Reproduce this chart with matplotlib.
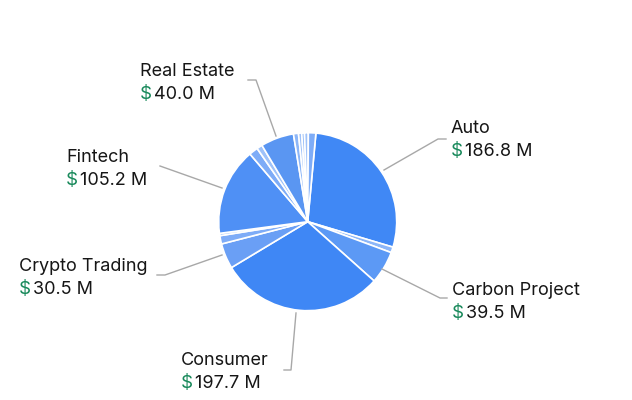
import matplotlib.pyplot as plt

# slices clockwise from Auto; unnamed ones are small unlabeled sectors
names = ['Auto', '', 'Carbon Project', 'Consumer', 'Crypto Trading', '', '',
         'Fintech', '', '', 'Real Estate', '', '', '', '', '']
values = [186.8, 6.8, 39.5, 197.7, 30.5, 10.0, 2.8,
          105.2, 10.8, 6.8, 40.0, 6.0, 3.9, 3.3, 4.6, 9.0]
colors = ['#4088f5', '#8cb6f8', '#5c99f5', '#3f87f5', '#6a9ff5', '#7eacf7', '#9fc2f9',
          '#4f90f5', '#7eacf7', '#9fc2f9', '#5a96f2', '#8cb6f8', '#9fc2f9', '#8cb6f8',
          '#9fc2f9', '#7eacf7']

# label text anchors (pixels, top-left) and leader lines (pixels)
label_pos = {
    'Real Estate': (140, 63),
    'Auto': (451, 120),
    'Fintech': (66, 149),
    'Crypto Trading': (19, 258),
    'Carbon Project': (452, 282),
    'Consumer': (181, 352),
}
leaders = {
    'Real Estate': [(248, 80), (256, 80), (276, 136)],
    'Auto': [(446, 139), (438, 139), (384, 170)],
    'Fintech': [(160, 166), (222, 188)],
    'Crypto Trading': [(157, 275), (165, 275), (222, 255)],
    'Carbon Project': [(447, 298), (440, 298), (382, 269)],
    'Consumer': [(284, 370), (291, 370), (296, 313)],
}

W, H = 632, 400
fig = plt.figure(figsize=(W / 100, H / 100), dpi=100)
ax = fig.add_axes([0, 0, 1, 1])

ax.pie(values, colors=colors, center=(307.7, H - 221.7), radius=89,
       startangle=84.7, counterclock=False,
       wedgeprops=dict(edgecolor='white', linewidth=1.2))

for name, pts in leaders.items():
    ax.plot([p[0] for p in pts], [H - p[1] for p in pts], color='#a8a8a8', lw=1)

amount = {n: v for n, v in zip(names, values) if n}
font = ['Inter', 'DejaVu Sans']
for name, (x, y) in label_pos.items():
    ax.text(x, H - y, name, fontsize=13, family=font, color='#161616', va='top', ha='left')
    ax.text(x, H - y - 23, '$', fontsize=13.5, family=font, color='#1a8a5c', va='top', ha='left')
    ax.text(x + 14, H - y - 23, f'{amount[name]:.1f} M', fontsize=13, family=font,
            color='#161616', va='top', ha='left')

ax.set_xlim(0, W)
ax.set_ylim(0, H)
ax.set_aspect('equal')
ax.axis('off')

fig.savefig('out.png', dpi=100)
